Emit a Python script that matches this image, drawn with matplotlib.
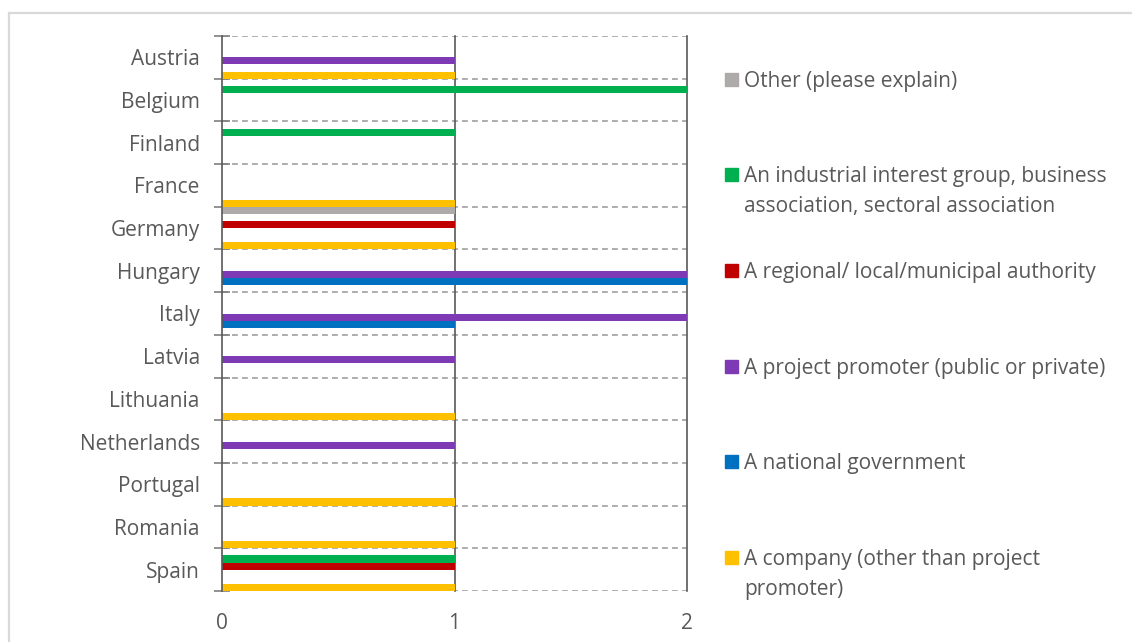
import matplotlib
matplotlib.use("Agg")
import matplotlib.pyplot as plt
from matplotlib.lines import Line2D
from matplotlib.patches import Rectangle
import numpy as np

plt.rcParams['font.family'] = ['Open Sans', 'DejaVu Sans']

countries = ["Austria", "Belgium", "Finland", "France", "Germany", "Hungary",
             "Italy", "Latvia", "Lithuania", "Netherlands", "Portugal",
             "Romania", "Spain"]

# series listed top-to-bottom within each country band
series_labels = [
    "Other (please explain)",
    "An industrial interest group, business\nassociation, sectoral association",
    "A regional/ local/municipal authority",
    "A project promoter (public or private)",
    "A national government",
    "A company (other than project\npromoter)",
]
series_colors = ["#AEAAAA", "#00B050", "#C00000", "#7E3AB5", "#0070C0", "#FFC000"]

other      = [0, 0, 0, 0, 1, 0, 0, 0, 0, 0, 0, 0, 0]
industrial = [0, 2, 1, 0, 0, 0, 0, 0, 0, 0, 0, 0, 1]
regional   = [0, 0, 0, 0, 1, 0, 0, 0, 0, 0, 0, 0, 1]
promoter   = [1, 0, 0, 0, 0, 2, 2, 1, 0, 1, 0, 0, 0]
national   = [0, 0, 0, 0, 0, 2, 1, 0, 0, 0, 0, 0, 0]
company    = [1, 0, 0, 1, 1, 0, 0, 0, 1, 0, 1, 1, 1]
series_values = [other, industrial, regional, promoter, national, company]

x_ticks = [0, 1, 2]

text_color = "#595959"
fs = 15
W, H = 1132, 642
fig = plt.figure(figsize=(W / 100, H / 100), dpi=100)
ax = fig.add_axes([222 / W, 1 - 591 / H, (687 - 222) / W, (591 - 36) / H])

n_series = len(series_values)
band = 1.0 / n_series
pos = np.arange(len(countries))
for k, (vals, col) in enumerate(zip(series_values, series_colors)):
    yk = pos - 0.5 + (k + 0.5) * band
    ax.barh(yk, vals, height=band, color=col, edgecolor="none", zorder=3)

ax.set_xlim(0, 2)
ax.set_ylim(len(countries) - 0.5, -0.5)

# category labels at band centres, tick marks at band boundaries
ax.set_yticks(pos)
ax.set_yticklabels(countries, fontsize=fs, color=text_color)
ax.tick_params(axis="y", which="major", length=0, pad=16)
ax.set_yticks(np.arange(len(countries) + 1) - 0.5, minor=True)
ax.tick_params(axis="y", which="minor", direction="inout", length=11.5,
               width=1.2, color="#7F7F7F")

ax.set_xticks(x_ticks)
ax.set_xticklabels([str(t) for t in x_ticks], fontsize=fs, color=text_color)
ax.tick_params(axis="x", length=0, pad=16)

# gridlines
ax.grid(False)
for yb in np.arange(len(countries) + 1) - 0.5:
    ax.axhline(yb, color="#A0A0A0", lw=1.2, ls=(0, (3.5, 2.5)), zorder=1)
for xv in x_ticks[1:]:
    ax.axvline(xv, color="#595959", lw=1.2, zorder=2, clip_on=False)

for s in ["top", "right", "bottom"]:
    ax.spines[s].set_visible(False)
ax.spines["left"].set_color("#595959")
ax.spines["left"].set_linewidth(1.2)
ax.spines["left"].set_zorder(4)

# legend, entries evenly spaced with the marker on the first text line
first_baseline = 86.5
leg_step = 95.7
line_gap = 30
for k, (lab, col) in enumerate(zip(series_labels, series_colors)):
    base = first_baseline + k * leg_step
    fig.patches.append(Rectangle((725 / W, 1 - (base - 1) / H), 13 / W, 13 / H,
                                 transform=fig.transFigure, color=col))
    for j, line in enumerate(lab.split("\n")):
        fig.text(744 / W, 1 - (base + j * line_gap) / H, line, fontsize=fs,
                 color=text_color, va="baseline", ha="left")

# chart frame
fig.add_artist(Line2D([9 / W, 9 / W], [0, 1 - 13 / H], transform=fig.transFigure,
                      color="#D9D9D9", lw=1.6))
fig.add_artist(Line2D([9 / W, 1], [1 - 13 / H, 1 - 13 / H], transform=fig.transFigure,
                      color="#D9D9D9", lw=1.6))

fig.savefig("out.png", dpi=100)
